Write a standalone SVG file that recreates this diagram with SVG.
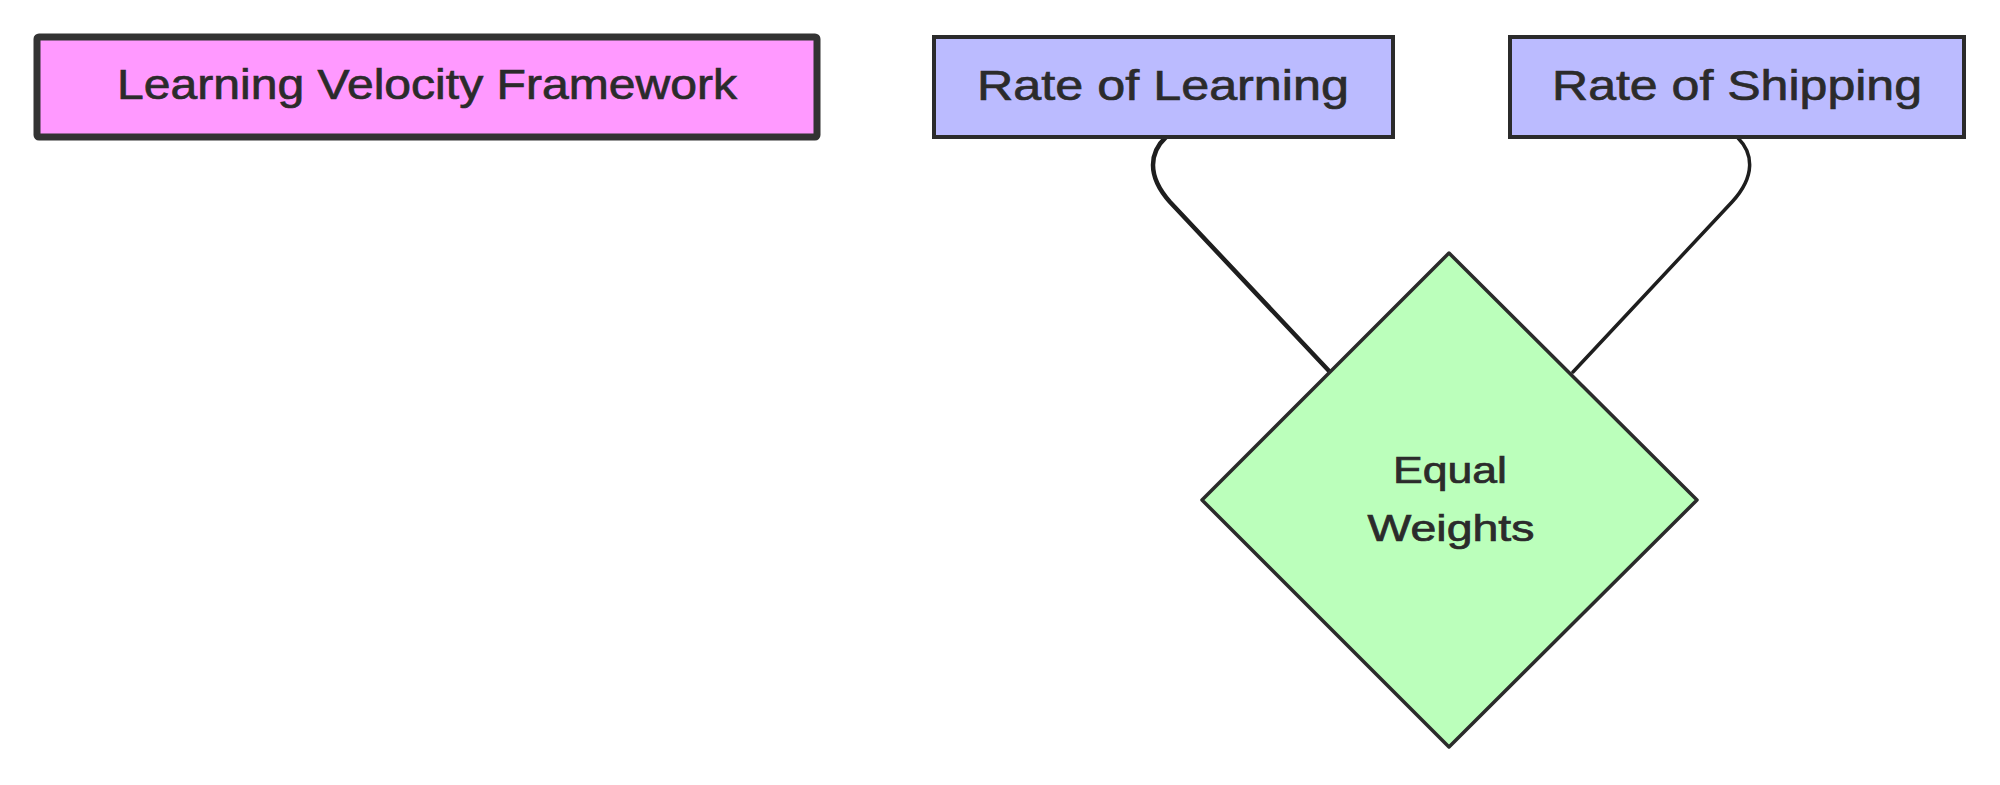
<svg xmlns="http://www.w3.org/2000/svg" width="2000" height="785" viewBox="0 0 2000 785">
<style>
.lbl{font-family:"Liberation Sans",Arial,sans-serif;fill:#2b2b2b;stroke:#2b2b2b;stroke-width:0.7;text-anchor:middle}
.big{font-size:43px}
.mid{font-size:36px}
.edge{fill:none;stroke:#1e1e1e;stroke-linecap:round;stroke-linejoin:round}
</style>
<rect width="2000" height="785" fill="#ffffff"/>
<g id="connectors">
<path class="edge" stroke-width="4.5" d="M1166,137 C1150,152 1146,175 1170,202 L1330,372"/>
<path class="edge" stroke-width="3.5" d="M1738,138 C1753,153 1756,176 1732,202 L1573,372"/>
</g>
<g id="node-framework">
<rect x="37" y="37" width="780" height="100" fill="#ff99ff" stroke="#333333" stroke-width="7" rx="2"/>
<text class="lbl big" x="427" y="99" textLength="620" lengthAdjust="spacingAndGlyphs">Learning Velocity Framework</text>
</g>
<g id="node-learning">
<rect x="934" y="37" width="459" height="100" fill="#bbbbff" stroke="#2b2b2b" stroke-width="4"/>
<text class="lbl big" x="1163" y="100" textLength="372" lengthAdjust="spacingAndGlyphs">Rate of Learning</text>
</g>
<g id="node-shipping">
<rect x="1510" y="37" width="454" height="100" fill="#bbbbff" stroke="#2b2b2b" stroke-width="4"/>
<text class="lbl big" x="1737" y="100" textLength="370" lengthAdjust="spacingAndGlyphs">Rate of Shipping</text>
</g>
<g id="node-weights">
<polygon points="1449,253 1697,500 1449,747 1202,500" fill="#bbffbb" stroke="#2b2b2b" stroke-width="3.5" stroke-linejoin="round"/>
<text class="lbl mid" x="1450" y="483" textLength="114" lengthAdjust="spacingAndGlyphs">Equal</text>
<text class="lbl mid" x="1451" y="541" textLength="167" lengthAdjust="spacingAndGlyphs">Weights</text>
</g>
</svg>
